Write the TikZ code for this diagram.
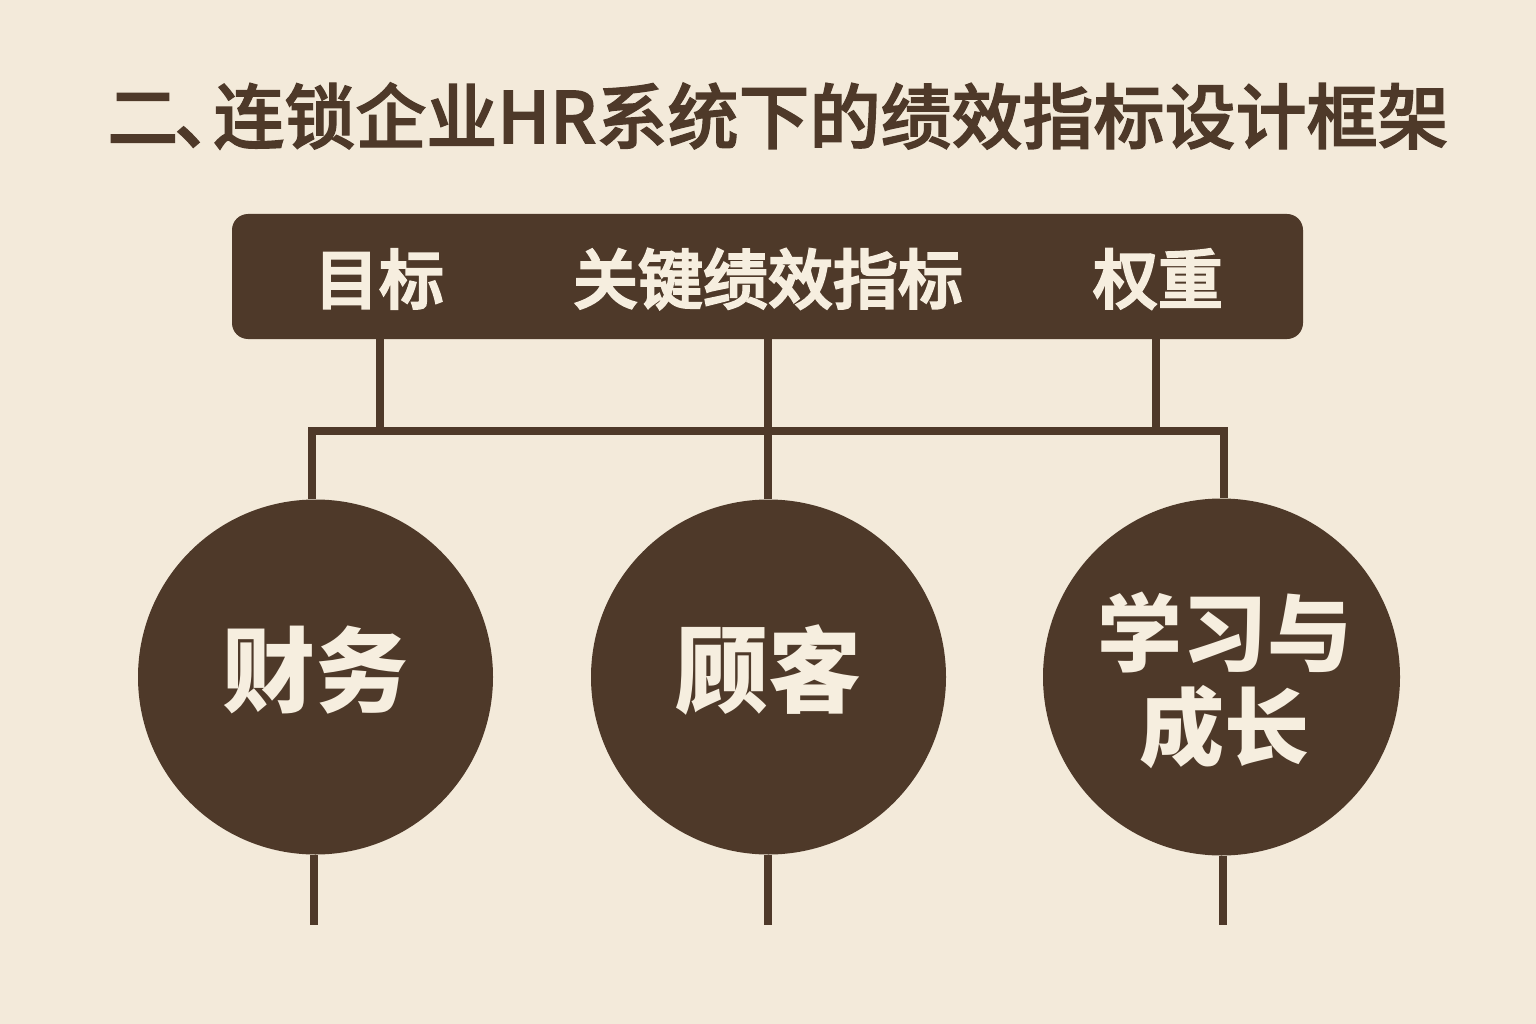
\documentclass[tikz,border=0pt]{standalone}
\usepackage{fontspec}
\newfontfamily\cjk{Noto Sans CJK SC}
\newfontfamily\cjkm{Noto Sans CJK SC Medium}[FakeBold=3]
\newfontfamily\cjkt{Noto Sans CJK SC Medium}[FakeBold=1.8]
\newcommand{\shifted}[2]{\raisebox{#1}[0pt][0pt]{#2}}
\definecolor{bgc}{HTML}{F3EADA}
\definecolor{dark}{HTML}{4E3929}
\definecolor{lite}{HTML}{F6EEDF}
\tikzset{
 conn/.style={draw=dark,line width=8pt},
 disc/.style={circle,fill=dark,minimum size=355pt,inner sep=0pt,text=lite,align=center},
 big/.style={font=\cjk\bfseries\fontsize{93}{94}\selectfont},
 two/.style={font=\cjk\bfseries\fontsize{85}{94}\selectfont},
 lab/.style={text=lite,inner sep=0pt,font=\cjkm\fontsize{65}{70}\selectfont},
 ttl/.style={text=dark,inner sep=0pt,font=\cjkt\fontsize{71}{74}\selectfont},
 barbox/.style={fill=dark,rounded corners=16pt,minimum width=1071pt,minimum height=125pt,inner sep=0pt}
}
\begin{document}
\begin{tikzpicture}[x=1pt,y=-1pt]
\useasboundingbox[fill=bgc] (0,0) rectangle (1536,1024);
\node[ttl] (title) at (778,116) {二\hspace{-4pt}、\hspace{-32pt}连锁企业HR系统下的绩效指标设计框架};
\coordinate (b1) at (380,431);
\coordinate (b2) at (768,431);
\coordinate (b3) at (1156,431);
\coordinate (bl) at (312,431);
\coordinate (br) at (1224,431);
\coordinate (e1) at (314,925);
\coordinate (e2) at (768,925);
\coordinate (e3) at (1223,925);
\node[barbox] (bar) at (767.5,276.5) {};
\node[lab] (t1) at (379,279) {目标};
\node[lab] (t2) at (768,279) {关键绩效指标};
\node[lab] (t3) at (1158,279) {权重};
\node[disc,big] (c1) at (315.5,677) {\shifted{-28pt}{财务}};
\node[disc,big] (c2) at (768.5,677) {\shifted{-28pt}{顾客}};
\node[disc,two,minimum size=357pt] (c3) at (1221.5,677) {\hspace{6pt}\shifted{-35pt}{学习与}\\\hspace{6pt}\shifted{-35pt}{成长}};
\draw[conn] (bar.south -| b1) -- (b1);
\draw[conn] (bar.south -| b2) -- (b2);
\draw[conn] (bar.south -| b3) -- (b3);
\draw[conn,line cap=rect] (bl) -- (br);
\draw[conn] (bl) -- (c1.north -| bl);
\draw[conn] (b2) -- (c2.north -| b2);
\draw[conn] (br) -- (c3.north -| br);
\draw[conn] (c1.south -| e1) -- (e1);
\draw[conn] (c2.south -| e2) -- (e2);
\draw[conn] (c3.south -| e3) -- (e3);
\end{tikzpicture}
\end{document}
